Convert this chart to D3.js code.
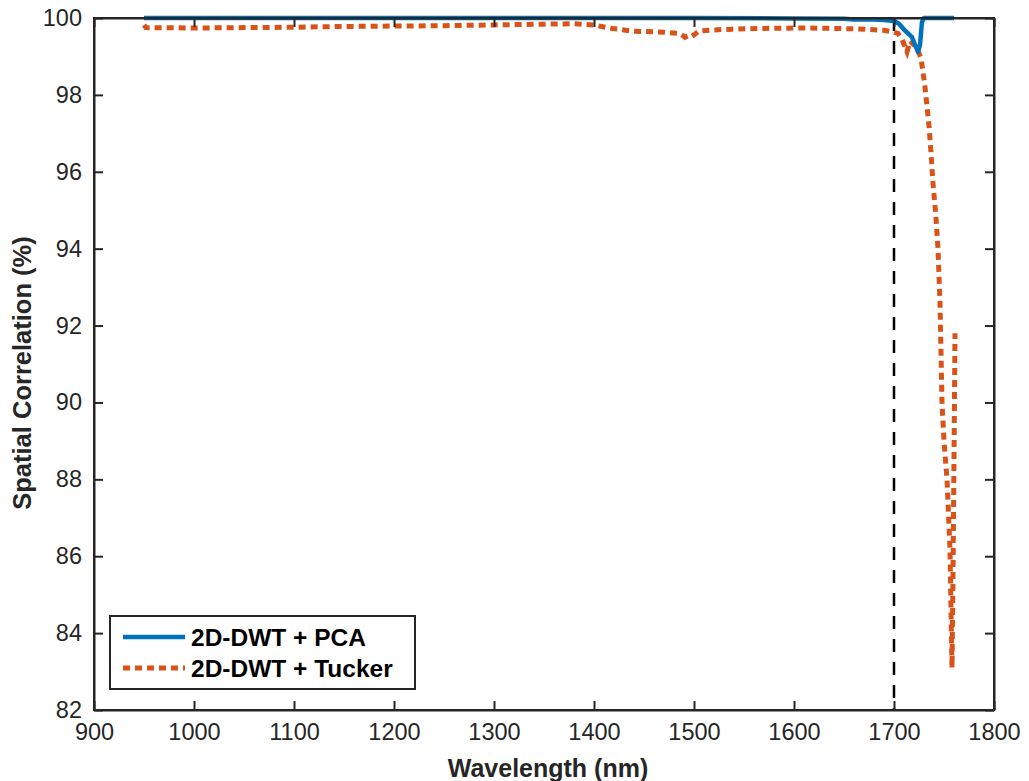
<!DOCTYPE html>
<html>
<head>
<meta charset="utf-8">
<script src="https://cdn.jsdelivr.net/npm/d3@7"></script>
<style>
  body { margin: 0; background: #fff; }
  svg { display: block; }
  text { font-family: "Liberation Sans", Arial, Helvetica, sans-serif; fill: #262626; }
</style>
</head>
<body>
<svg id="chart" width="1029" height="781"></svg>
<script>
// ---- data ----
const pcaWavelength = [950, 1000, 1100, 1200, 1300, 1400, 1500, 1600, 1650, 1660, 1675, 1690, 1700, 1705, 1710, 1714, 1718, 1721, 1724, 1726, 1728, 1730, 1745, 1760];
const pcaValues     = [100, 100, 100, 100, 100, 100, 100, 99.99, 99.98, 99.96, 99.97, 99.95, 99.92, 99.85, 99.7, 99.6, 99.5, 99.3, 99.12, 99.3, 99.9, 100, 100, 100];

const tuckerWavelength = [950, 952, 1000, 1050, 1100, 1150, 1200, 1250, 1300, 1350, 1380, 1400, 1415, 1438, 1460, 1471, 1485, 1489, 1491, 1495, 1498, 1505, 1520, 1538, 1570, 1605, 1640, 1671, 1690, 1698, 1704, 1708, 1711, 1713, 1716, 1720, 1724, 1727, 1729, 1731, 1733, 1735, 1737, 1739, 1742, 1744, 1746, 1748, 1750, 1753, 1756, 1758, 1759, 1760, 1761];
const tuckerValues     = [99.82, 99.75, 99.74, 99.75, 99.76, 99.78, 99.79, 99.8, 99.82, 99.84, 99.85, 99.82, 99.74, 99.66, 99.64, 99.63, 99.6, 99.54, 99.5, 99.55, 99.52, 99.66, 99.69, 99.71, 99.73, 99.74, 99.73, 99.71, 99.68, 99.64, 99.6, 99.45, 99.25, 99.12, 99.4, 99.3, 99.15, 98.95, 98.6, 98.2, 97.7, 97.2, 96.5, 95.7, 94.8, 94.0, 92.6, 90.0, 89.0, 88.0, 86.2, 83.1, 85.5, 88.5, 91.8];

const xTicks = [900, 1000, 1100, 1200, 1300, 1400, 1500, 1600, 1700, 1800];
const yTicks = [82, 84, 86, 88, 90, 92, 94, 96, 98, 100];
const cutoffWavelength = [1700];
const seriesNames = ["2D-DWT + PCA", "2D-DWT + Tucker"];
const seriesColors = ["#0072BD", "#D95319"];

// ---- layout ----
const margin = { left: 94, top: 18, right: 35, bottom: 71 };
const W = 1029, H = 781;
const iw = W - margin.left - margin.right;
const ih = H - margin.top - margin.bottom;
const axisColor = "#262626";

const svg = d3.select("#chart");
const g = svg.append("g").attr("transform", `translate(${margin.left},${margin.top})`);

const x = d3.scaleLinear().domain([900, 1800]).range([0, iw]);
const y = d3.scaleLinear().domain([82, 100]).range([ih, 0]);

// vertical dashed line
g.selectAll(".cut").data(cutoffWavelength).enter().append("line")
  .attr("x1", d => x(d)).attr("x2", d => x(d))
  .attr("y1", 0).attr("y2", ih)
  .attr("stroke", "#000").attr("stroke-width", 2.5)
  .attr("stroke-dasharray", "13,10");

const line = d3.line().x(d => x(d[0])).y(d => y(d[1]));

const tuckerData = tuckerWavelength.map((w, i) => [w, tuckerValues[i]]);
const pcaData = pcaWavelength.map((w, i) => [w, pcaValues[i]]);

g.append("path").datum(tuckerData)
  .attr("d", line).attr("fill", "none")
  .attr("stroke", seriesColors[1]).attr("stroke-width", 5)
  .attr("stroke-dasharray", "7,5");

g.append("path").datum(pcaData)
  .attr("d", line).attr("fill", "none")
  .attr("stroke", seriesColors[0]).attr("stroke-width", 4.5)
  .attr("stroke-linejoin", "round");

// axes (ticks inward on all four sides)
const tickLen = 9;
const fontTick = "23.5px";
const fmt = d3.format("d");

const xb = g.append("g").attr("transform", `translate(0,${ih})`)
  .call(d3.axisBottom(x).tickValues(xTicks).tickFormat(fmt).tickSizeInner(-tickLen).tickSizeOuter(0).tickPadding(12));
const xt = g.append("g")
  .call(d3.axisTop(x).tickValues(xTicks).tickSizeInner(-tickLen).tickSizeOuter(0).tickFormat(""));
const yl = g.append("g")
  .call(d3.axisLeft(y).tickValues(yTicks).tickFormat(fmt).tickSizeInner(-tickLen).tickSizeOuter(0).tickPadding(12));
const yr = g.append("g").attr("transform", `translate(${iw},0)`)
  .call(d3.axisRight(y).tickValues(yTicks).tickSizeInner(-tickLen).tickSizeOuter(0).tickFormat(""));

[xb, xt, yl, yr].forEach(a => {
  a.select(".domain").attr("stroke", axisColor).attr("stroke-width", 2);
  a.selectAll(".tick line").attr("stroke", axisColor).attr("stroke-width", 2);
  a.selectAll(".tick text").style("font-size", fontTick).style("fill", axisColor)
    .style("font-family", "'Liberation Sans', Arial, Helvetica, sans-serif");
});
xb.selectAll(".tick text").attr("dy", "0.75em");
g.append("rect").attr("x", 0).attr("y", 0).attr("width", iw).attr("height", ih)
  .attr("fill", "none").attr("stroke", axisColor).attr("stroke-width", 2);

// axis labels
svg.append("text")
  .attr("x", margin.left + iw / 2 + 4).attr("y", 777)
  .attr("text-anchor", "middle")
  .style("font-size", "25px").style("font-weight", "bold")
  .text("Wavelength (nm)");

svg.append("text")
  .attr("transform", `translate(31,373) rotate(-90)`)
  .attr("text-anchor", "middle")
  .style("font-size", "25.5px").style("font-weight", "bold")
  .text("Spatial Correlation (%)");

// legend
const legend = svg.append("g");
legend.append("rect")
  .attr("x", 110).attr("y", 616).attr("width", 305).attr("height", 73)
  .attr("fill", "#fff").attr("stroke", axisColor).attr("stroke-width", 2);

const legRows = seriesNames.map((n, i) => ({ name: n, color: seriesColors[i], dash: i === 1 ? "7,5" : null, w: i === 1 ? 5 : 4.5 }));
const rowY = [637, 668];
legRows.forEach((r, i) => {
  legend.append("line")
    .attr("x1", 123).attr("x2", 185).attr("y1", rowY[i]).attr("y2", rowY[i])
    .attr("stroke", r.color).attr("stroke-width", r.w)
    .attr("stroke-dasharray", r.dash);
  legend.append("text")
    .attr("x", 191).attr("y", rowY[i]).attr("dy", "0.36em")
    .style("font-size", "24.5px").style("font-weight", "bold")
    .style("fill", "#000")
    .text(r.name);
});
</script>
</body>
</html>
